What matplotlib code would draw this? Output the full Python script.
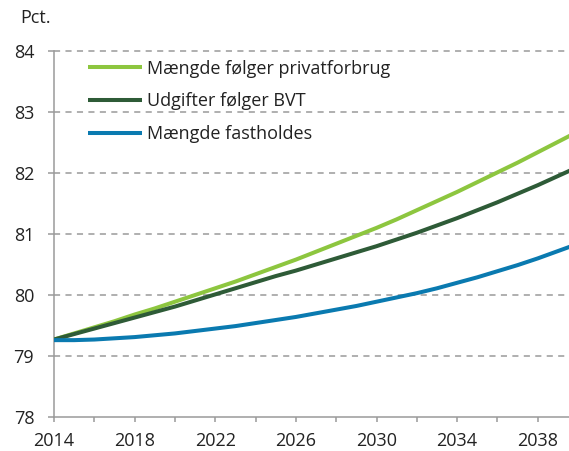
import matplotlib
matplotlib.use("Agg")
import matplotlib.pyplot as plt
from matplotlib.ticker import MultipleLocator, FixedLocator

years = list(range(2014, 2041))
privatforbrug = [79.27, 79.37, 79.47, 79.57, 79.68, 79.78, 79.89, 80.00, 80.11, 80.22,
                 80.34, 80.46, 80.58, 80.71, 80.84, 80.97, 81.10, 81.24, 81.39, 81.54,
                 81.69, 81.85, 82.01, 82.17, 82.34, 82.51, 82.68]
bvt = [79.27, 79.36, 79.45, 79.54, 79.63, 79.72, 79.81, 79.91, 80.01, 80.11,
       80.21, 80.31, 80.40, 80.50, 80.60, 80.70, 80.80, 80.91, 81.02, 81.14,
       81.26, 81.39, 81.52, 81.66, 81.80, 81.95, 82.10]
fastholdes = [79.26, 79.26, 79.27, 79.29, 79.31, 79.34, 79.37, 79.41, 79.45, 79.49,
              79.54, 79.59, 79.64, 79.70, 79.76, 79.82, 79.89, 79.96, 80.03, 80.11,
              80.20, 80.29, 80.39, 80.49, 80.60, 80.72, 80.84]
labels = ["Mængde følger privatforbrug", "Udgifter følger BVT", "Mængde fastholdes"]
colors = ["#8DC63F", "#2E5B37", "#0A7AB0"]
xtick_labels = [2014, 2018, 2022, 2026, 2030, 2034, 2038]

plt.rcParams['font.family'] = ['Open Sans', 'DejaVu Sans']

W, H = 569, 451
fig = plt.figure(figsize=(W / 100, H / 100), dpi=100)
left, right, top, bottom = 54, 569, 51, 417
ax = fig.add_axes([left / W, 1 - bottom / H, (right - left) / W, (bottom - top) / H])

for series, lab, c in zip([privatforbrug, bvt, fastholdes], labels, colors):
    ax.plot(years, series, color=c, lw=2.9, label=lab, solid_capstyle='butt', zorder=3)

ax.set_xlim(2014, 2039.55)
ax.set_ylim(78, 84)
ax.xaxis.set_major_locator(FixedLocator(xtick_labels))
ax.set_xticklabels([str(v) for v in xtick_labels])
ax.xaxis.set_minor_locator(FixedLocator(list(range(2016, 2040, 4))))
ax.yaxis.set_major_locator(MultipleLocator(1))

grid_c = "#9a9a9a"
for y in range(79, 85):
    ax.axhline(y, color=grid_c, lw=1.1, ls=(0, (4, 3.5)), zorder=1, clip_on=False)

for s in ["top", "right"]:
    ax.spines[s].set_visible(False)
for s in ["left", "bottom"]:
    ax.spines[s].set_color(grid_c)
    ax.spines[s].set_linewidth(1.1)

ax.tick_params(axis='y', which='both', length=4.3, width=1.1, color=grid_c,
               labelsize=13, pad=10, labelcolor="#222222")
ax.tick_params(axis='x', which='both', length=3.8, width=1.1, color=grid_c,
               labelsize=13, pad=7, labelcolor="#222222")

fig.text(20 / W, 1 - 18 / H, "Pct.", fontsize=13, ha='left', va='center', color="#222222")

leg = ax.legend(loc='upper left', bbox_to_anchor=(0.049, 1.0), frameon=False,
                fontsize=13, handlelength=3.0, handletextpad=0.3, labelspacing=0.82,
                borderaxespad=0.08)
for t in leg.get_texts():
    t.set_color("#222222")

fig.savefig("out.png", dpi=100)
